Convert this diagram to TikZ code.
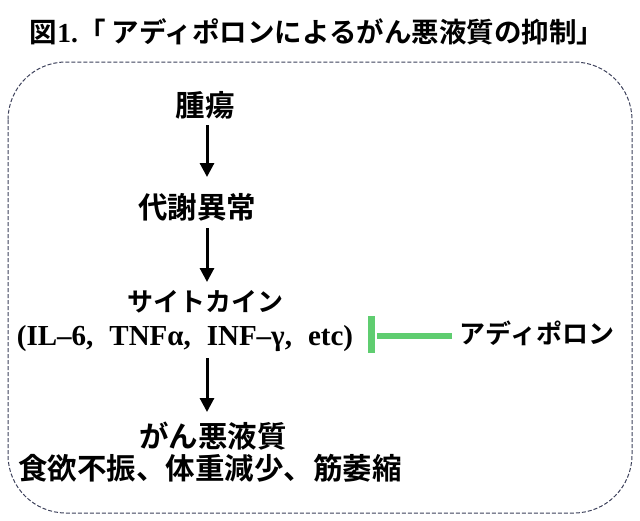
\documentclass[tikz,border=0pt]{standalone}
\usepackage{fontspec}
\setmainfont{Liberation Serif}
\newfontfamily\cjk{Noto Sans CJK JP Bold}
\usetikzlibrary{arrows.meta}
\definecolor{boxcol}{RGB}{60,64,90}
\definecolor{inhibgreen}{RGB}{95,205,112}
\begin{document}
\begin{tikzpicture}[x=1pt,y=-1pt,
  txt/.style={font=\cjk\fontsize{26}{30}\selectfont, inner sep=0pt, anchor=center},
  kanji/.style={txt, font=\cjk\fontsize{29.5}{34}\selectfont},
  ttl/.style={font=\cjk\fontsize{27.5}{32}\selectfont, inner sep=0pt, anchor=center},
  latin/.style={font=\rmfamily\bfseries\fontsize{29}{34}\selectfont, inner sep=0pt, anchor=center},
  flow/.style={-{Triangle[length=14pt,width=14pt]}, line width=3pt, black},
  inhib/.style={line width=6pt, inhibgreen},
  frame/.style={draw=boxcol, line width=1pt, dash pattern=on 4pt off 2pt, rounded corners=58pt}]
\useasboundingbox (0,0) rectangle (640,520);
\draw[frame] (8,62) rectangle (632,513);
\node[ttl] (title) at (317,32) {図{\rmfamily\bfseries 1.}「 アディポロンによるがん悪液質の抑制」};
\node[kanji] (tumor) at (205,105) {腫瘍};
\node[kanji] (meta) at (197,207) {代謝異常};
\node[txt] (cyto) at (205,302) {サイトカイン};
\node[latin] (cytolist) at (185,339) {(IL–6,\hspace{0.3em} TNFα,\hspace{0.3em} INF–γ,\hspace{0.3em} etc)};
\node[txt] (adipo) at (537,333) {アディポロン};
\node[kanji] (cach) at (213,436) {がん悪液質};
\node[kanji] (symp) at (210,468) {食欲不振、体重減少、筋萎縮};
\coordinate (a1s) at (207,125);
\coordinate (a1e) at (207,177);
\coordinate (a2s) at (207,228);
\coordinate (a2e) at (207,282);
\coordinate (a3s) at (207,358);
\coordinate (a3e) at (207,412);
\draw[flow] (a1s) -- (a1e);
\draw[flow] (a2s) -- (a2e);
\draw[flow] (a3s) -- (a3e);
\coordinate (gs) at (452,336);
\coordinate (ge) at (377,336);
\coordinate (bt) at (371.5,316);
\coordinate (bb) at (371.5,353);
\draw[inhib] (gs) -- (ge);
\draw[inhibgreen, line width=7pt] (bt) -- (bb);
\end{tikzpicture}
\end{document}
